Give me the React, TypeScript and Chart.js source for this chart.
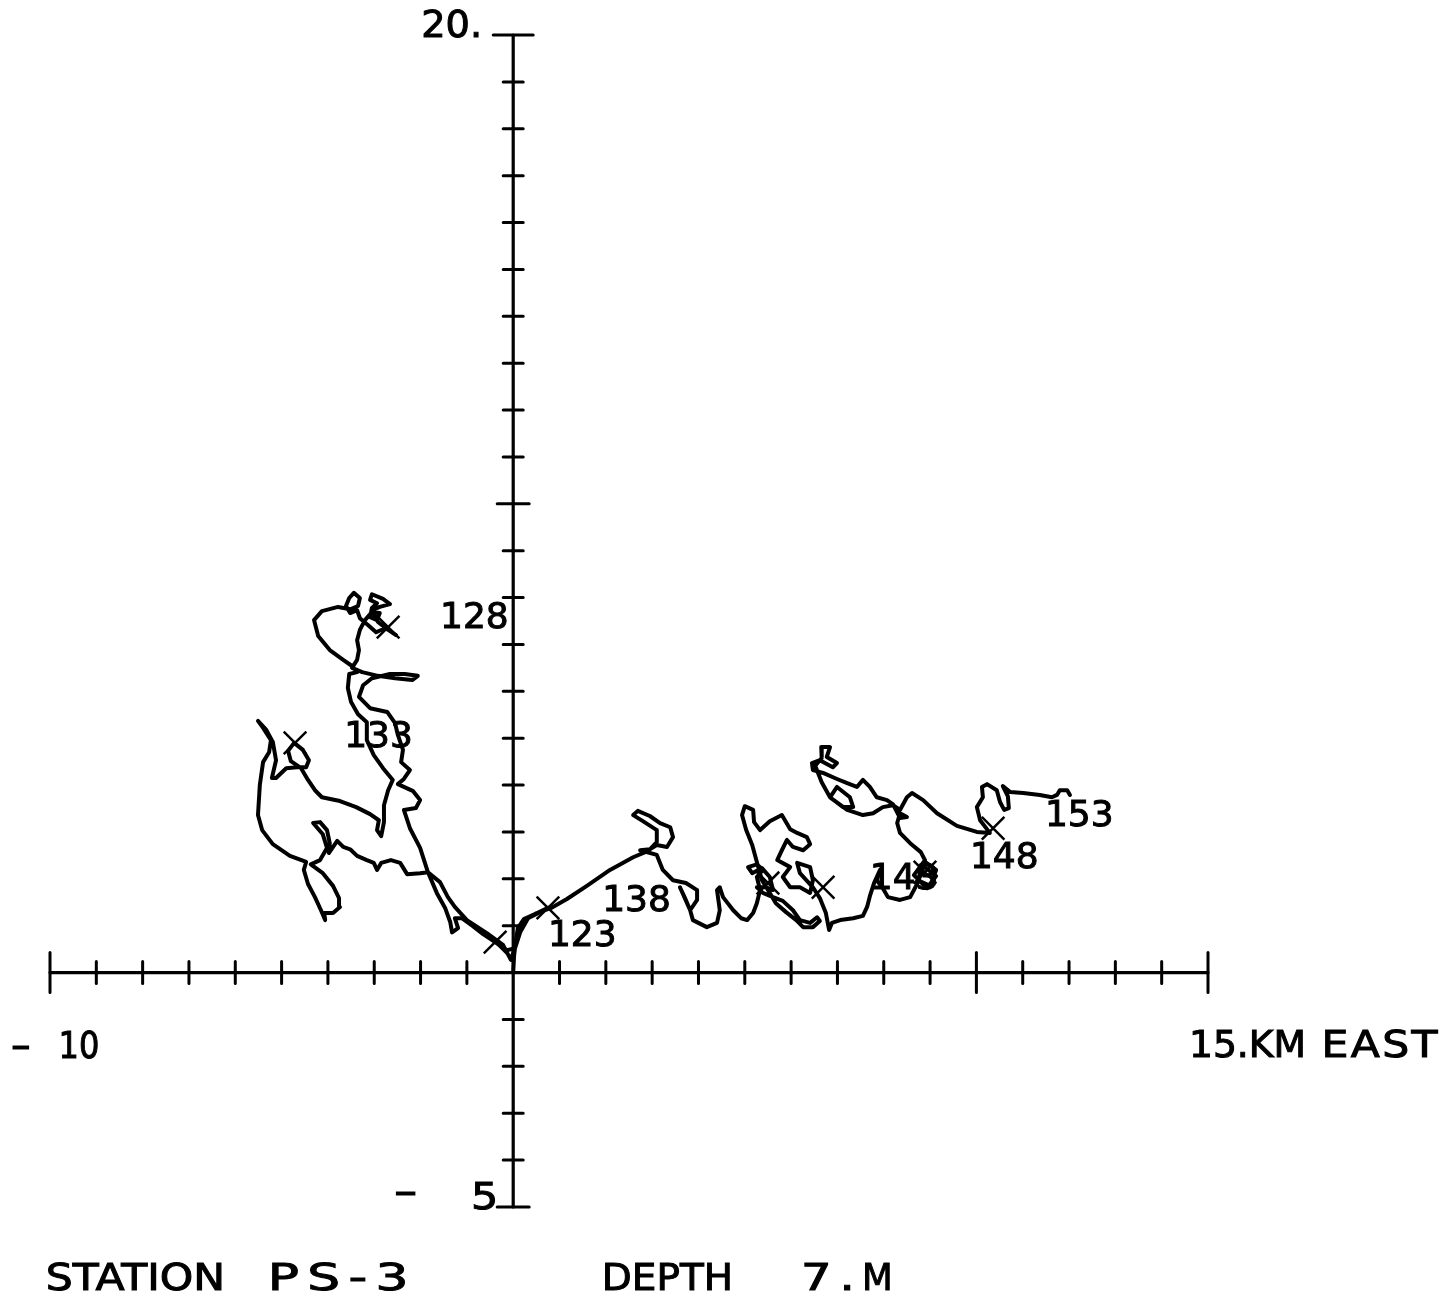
import React, { useEffect, useRef } from 'react';
import { Chart, registerables } from 'chart.js';

Chart.register(...registerables);

// Progressive vector track, km east / km north of the station
const trackEastKm = [
  0, 0.02, 0.06, 0.10, 0.23, 0.47, 0.75, 0.58, 0.32, 0.15,
  0.04, -0.13, -0.39, -0.65, -0.87, -1.11, -1.26, -1.19, -1.32, -1.36,
  -1.47, -1.65, -1.84, -2.01, -2.23, -2.36, -2.10, -2.01, -2.16, -2.49,
  -2.36, -2.23, -2.42, -2.38, -2.49, -2.55, -2.72, -3.09, -3.33, -3.24,
  -3.05, -2.66, -2.34, -2.06, -2.18, -2.55, -2.92, -3.26, -3.48, -3.37,
  -3.33, -3.37, -3.31, -3.20, -3.05, -2.88, -2.94, -3.09, -3.05, -2.94,
  -3.09, -3.05, -2.81, -2.66, -2.88, -3.05, -2.92, -2.70, -2.53, -2.75,
  -2.96, -3.13, -3.31, -3.37, -3.52, -3.61, -3.54, -3.44, -3.31, -3.35,
  -3.52, -3.78, -4.13, -4.30, -4.21, -3.96, -3.67, -3.48, -3.37, -3.54,
  -3.57, -3.50, -3.35, -3.16, -3.16, -3.01, -2.81, -2.60, -2.70, -2.79,
  -2.79, -2.85, -2.94, -2.90, -3.09, -3.39, -3.74, -4.13, -4.28, -4.43,
  -4.58, -4.80, -4.86, -4.73, -4.54, -4.41, -4.47, -4.67, -4.90, -5.12,
  -5.21, -5.12, -5.19, -5.34, -5.51, -5.40, -5.23, -5.27, -5.40, -5.47,
  -5.51, -5.42, -5.19, -4.82, -4.47, -4.52, -4.43, -4.28, -4.15, -4.06,
  -4.08, -3.89, -3.74, -3.76, -3.89, -4.11, -4.37, -4.17, -4.02, -4.11,
  -4.32, -4.17, -4.02, -3.96, -3.98, -3.80, -3.67, -3.52, -3.37, -3.16,
  -3.01, -2.94, -2.85, -2.64, -2.44, -2.29, -2.01, -1.84, -1.58, -1.41,
  -1.26, -1.00, -0.57, -0.22, -0.05, 0.02, 0.10, 0.23, 0.51, 0.82,
  1.16, 1.59, 2.09, 2.59, 2.85, 3.10, 3.32, 3.45, 3.39, 3.17,
  2.95, 2.69, 2.59, 2.80, 3.10, 3.10, 2.95, 2.74, 3.10, 3.23,
  3.45, 3.73, 3.97, 3.97, 3.82, 3.71, 3.60, 3.82, 3.88, 4.18,
  4.40, 4.46, 4.40, 4.46, 4.53, 4.75, 4.92, 5.05, 5.18, 5.26,
  5.33, 5.26, 5.39, 5.26, 5.07, 5.16, 5.37, 5.54, 5.61, 5.46,
  5.26, 5.39, 5.61, 5.82, 6.04, 6.19, 6.41, 6.56, 6.62, 6.47,
  6.26, 6.11, 5.89, 5.67, 5.54, 5.37, 5.26, 5.16, 5.03, 4.94,
  5.00, 5.18, 5.20, 5.33, 5.54, 5.80, 5.98, 6.13, 6.34, 6.41,
  6.26, 6.04, 5.91, 5.80, 5.70, 5.98, 5.82, 5.98, 6.19, 6.41,
  6.47, 6.41, 6.13, 6.19, 6.47, 6.62, 6.75, 6.82, 6.88, 7.06,
  7.34, 7.55, 7.64, 7.70, 7.79, 7.92, 7.85, 7.98, 8.09, 8.35,
  8.57, 8.72, 8.89, 9.13, 9.00, 8.74, 8.83, 9.13, 8.93, 8.65,
  8.89, 8.80, 8.57, 8.35, 8.29, 8.35, 8.50, 8.35, 8.20, 8.07,
  7.85, 7.70, 7.55, 7.42, 7.21, 6.99, 6.69, 6.47, 6.45, 6.62,
  6.90, 6.99, 6.77, 6.84, 6.65, 6.66, 6.52, 6.66, 6.84, 7.12,
  7.34, 7.27, 6.99, 6.84, 7.21, 7.55, 7.77, 7.98, 8.20, 8.35,
  8.50, 8.61, 8.85, 9.15, 9.58, 10.01, 10.29, 10.08, 10.01, 10.14,
  10.12, 10.23, 10.44, 10.51, 10.60, 10.70, 10.68, 10.57, 10.73, 11.01,
  11.37, 11.63, 11.74, 11.80, 11.96, 12.02,
];

const trackNorthKm = [
  0, 0.37, 0.69, 0.95, 1.14, 1.25, 1.38, 1.29, 1.16, 0.86,
  0.52, 0.48, 0.65, 0.82, 0.99, 1.16, 1.16, 0.95, 0.86, 1.08,
  1.38, 1.70, 2.14, 2.66, 3.08, 3.47, 3.51, 3.68, 3.87, 4.02,
  4.13, 4.32, 4.49, 4.75, 5.07, 5.32, 5.56, 5.64, 5.88, 6.13,
  6.28, 6.37, 6.37, 6.33, 6.24, 6.28, 6.33, 6.41, 6.50, 6.67,
  6.88, 7.09, 7.31, 7.52, 7.69, 7.67, 7.52, 7.58, 7.78, 7.88,
  7.95, 8.07, 7.97, 7.86, 7.80, 7.73, 7.48, 7.31, 7.20, 7.35,
  7.26, 7.41, 7.56, 7.73, 7.67, 7.82, 7.99, 8.10, 7.99, 7.82,
  7.75, 7.80, 7.71, 7.52, 7.18, 6.88, 6.67, 6.54, 6.41, 6.37,
  6.07, 5.77, 5.51, 5.34, 4.96, 4.64, 4.36, 4.11, 3.89, 3.57,
  3.21, 2.91, 3.04, 3.25, 3.38, 3.53, 3.66, 3.74, 3.89, 4.11,
  4.36, 4.51, 4.73, 4.90, 4.75, 4.53, 4.38, 4.38, 4.36, 4.15,
  4.15, 4.53, 4.92, 5.19, 5.37, 5.22, 4.96, 4.70, 4.49, 4.00,
  3.36, 3.04, 2.74, 2.49, 2.36, 2.19, 1.89, 1.61, 1.33, 1.12,
  1.27, 1.27, 1.40, 1.59, 1.85, 2.12, 2.31, 2.40, 2.66, 2.95,
  3.19, 3.21, 3.04, 2.76, 2.55, 2.81, 2.68, 2.63, 2.49, 2.40,
  2.34, 2.19, 2.34, 2.40, 2.34, 2.10, 2.12, 2.14, 1.93, 1.61,
  1.40, 1.12, 0.84, 0.59, 0.27, 0.48, 0.91, 1.12, 1.27, 1.38,
  1.57, 1.85, 2.19, 2.46, 2.57, 2.72, 2.68, 2.89, 3.10, 3.19,
  3.34, 3.45, 3.36, 3.23, 3.04, 2.78, 2.63, 2.61, 2.51, 2.19,
  1.97, 1.91, 1.76, 1.55, 1.33, 1.59, 1.82, 1.33, 1.12, 0.97,
  1.06, 1.33, 1.76, 1.82, 1.61, 1.33, 1.16, 1.12, 1.27, 1.48,
  1.76, 2.04, 2.19, 2.31, 2.25, 2.12, 2.23, 2.04, 1.76, 1.82,
  1.82, 1.70, 1.61, 1.53, 1.33, 1.12, 1.06, 1.18, 1.10, 0.97,
  0.97, 1.12, 1.29, 1.48, 1.70, 1.97, 2.36, 2.72, 3.04, 3.36,
  3.55, 3.47, 3.21, 3.04, 3.23, 3.36, 3.06, 2.98, 2.89, 2.74,
  2.61, 2.68, 2.83, 2.61, 2.40, 2.25, 2.04, 1.82, 1.82, 1.70,
  1.97, 2.25, 2.34, 2.12, 1.82, 1.59, 1.27, 0.91, 1.06, 1.12,
  1.16, 1.21, 1.40, 1.63, 1.91, 2.19, 1.97, 1.80, 1.61, 1.55,
  1.61, 1.89, 2.36, 2.19, 1.85, 1.97, 2.29, 2.06, 1.80, 2.08,
  2.40, 2.57, 2.76, 2.98, 3.19, 3.40, 3.32, 3.30, 3.59, 3.68,
  3.74, 3.96, 4.11, 3.96, 4.04, 4.13, 4.26, 4.32, 4.47, 4.53,
  4.38, 4.47, 4.60, 4.81, 4.81, 4.58, 4.41, 4.06, 3.74, 3.53,
  3.53, 3.74, 3.96, 3.74, 3.47, 3.36, 3.40, 3.53, 3.57, 3.47,
  3.74, 3.83, 3.68, 3.40, 3.13, 3.00, 2.98, 3.25, 3.53, 3.74,
  3.96, 4.02, 3.89, 3.64, 3.47, 3.51, 3.76, 3.98, 3.85, 3.83,
  3.79, 3.74, 3.79, 3.89, 3.89, 3.79,
];

// Day markers (X) along the track
const markEastKm = [-0.39, 0.75, -2.70, -4.71, 5.50, 6.69, 8.89, 10.36];
const markNorthKm = [0.65, 1.38, 7.37, 4.90, 1.91, 1.82, 2.14, 3.08];

// Day labels (text left edge / vertical centre, km)
const dayLabels = ['123', '128', '133', '138', '143', '148', '153'];
const dayLabelEastKm = [0.75, -1.58, -3.65, 1.92, 7.70, 9.86, 11.48];
const dayLabelNorthKm = [0.85, 7.63, 5.10, 1.60, 2.06, 2.51, 3.40];

// Axes
const xRangeKm = [-10, 15];
const yRangeKm = [-5, 20];
const xTickValues = [-10, -9, -8, -7, -6, -5, -4, -3, -2, -1, 0, 1, 2, 3, 4, 5, 6, 7, 8, 9, 10, 11, 12, 13, 14, 15];
const yTickValues = [-5, -4, -3, -2, -1, 0, 1, 2, 3, 4, 5, 6, 7, 8, 9, 10, 11, 12, 13, 14, 15, 16, 17, 18, 19, 20];
const xMajorTicks = [-10, 10, 15];
const yMajorTicks = [-5, 10, 20];

const FONT = '"DejaVu Sans", "Liberation Sans", sans-serif';

function inkBox(ctx: CanvasRenderingContext2D, text: string) {
  const m = ctx.measureText(text);
  return { w: m.actualBoundingBoxLeft + m.actualBoundingBoxRight, left: m.actualBoundingBoxLeft };
}

// Draw text so that its ink spans [left, right]: glyphs are widened a little
// (plotter lettering) and any remaining room goes into letter spacing.
function drawFit(ctx: CanvasRenderingContext2D, text: string, left: number, right: number, baseline: number, widen = 1.15, size = 37) {
  ctx.save();
  ctx.font = `${size}px ${FONT}`;
  ctx.textAlign = 'left';
  ctx.textBaseline = 'alphabetic';
  const anyCtx = ctx as any;
  const target = right - left;
  let m = inkBox(ctx, text);
  let sx = widen;
  if (text.length === 1) {
    sx = m.w > 0 ? target / m.w : 1;
  } else if (m.w * widen >= target || !('letterSpacing' in anyCtx)) {
    sx = m.w > 0 ? target / m.w : 1;
  } else {
    const extra = (target / widen - m.w) / (text.length - 1);
    anyCtx.letterSpacing = `${extra.toFixed(2)}px`;
    m = inkBox(ctx, text);
    sx = m.w > 0 ? target / m.w : widen;
  }
  ctx.translate(left, baseline);
  ctx.scale(sx, 1);
  ctx.lineWidth = 1;
  ctx.strokeStyle = '#000';
  ctx.fillText(text, m.left, 0);
  ctx.strokeText(text, m.left, 0);
  ctx.restore();
}

const pvdPlugin = {
  id: 'pvdAxes',
  beforeDraw(chart: any) {
    const ctx = chart.ctx;
    ctx.save();
    ctx.fillStyle = '#ffffff';
    ctx.fillRect(0, 0, chart.width, chart.height);
    ctx.restore();
  },
  beforeDatasetsDraw(chart: any) {
    const ctx: CanvasRenderingContext2D = chart.ctx;
    const xs = chart.scales.x;
    const ys = chart.scales.y;
    const x0 = xs.getPixelForValue(0);
    const y0 = ys.getPixelForValue(0);
    ctx.save();
    ctx.strokeStyle = '#000';
    ctx.lineWidth = 3.2;
    ctx.lineCap = 'round';
    ctx.beginPath();
    ctx.moveTo(xs.getPixelForValue(xRangeKm[0]), y0);
    ctx.lineTo(xs.getPixelForValue(xRangeKm[1]), y0);
    ctx.moveTo(x0, ys.getPixelForValue(yRangeKm[0]));
    ctx.lineTo(x0, ys.getPixelForValue(yRangeKm[1]));
    ctx.stroke();
    ctx.lineWidth = 3;
    ctx.beginPath();
    xTickValues.forEach((v) => {
      if (v === 0) return;
      const px = xs.getPixelForValue(v);
      const h = xMajorTicks.includes(v) ? 20 : 11;
      ctx.moveTo(px, y0 - h);
      ctx.lineTo(px, y0 + h);
    });
    yTickValues.forEach((v) => {
      if (v === 0) return;
      const py = ys.getPixelForValue(v);
      const h = v === yRangeKm[1] ? 20 : yMajorTicks.includes(v) ? 16 : 10;
      ctx.moveTo(x0 - h, py);
      ctx.lineTo(x0 + h, py);
    });
    ctx.stroke();
    ctx.restore();
  },
  afterDatasetsDraw(chart: any) {
    const ctx: CanvasRenderingContext2D = chart.ctx;
    const xs = chart.scales.x;
    const ys = chart.scales.y;
    ctx.save();
    ctx.fillStyle = '#000';
    ctx.strokeStyle = '#000';
    // day labels
    ctx.font = `36px ${FONT}`;
    ctx.textAlign = 'left';
    ctx.textBaseline = 'alphabetic';
    ctx.lineWidth = 1;
    dayLabels.forEach((t, i) => {
      const px = xs.getPixelForValue(dayLabelEastKm[i]);
      const py = ys.getPixelForValue(dayLabelNorthKm[i]);
      ctx.fillText(t, px, py + 13);
      ctx.strokeText(t, px, py + 13);
    });
    // axis annotations
    const x0 = xs.getPixelForValue(0);
    const yTop = ys.getPixelForValue(yRangeKm[1]);
    const yBot = ys.getPixelForValue(yRangeKm[0]);
    const xL = xs.getPixelForValue(xRangeKm[0]);
    const xR = xs.getPixelForValue(xRangeKm[1]);
    drawFit(ctx, '20.', x0 - 90, x0 - 35, yTop + 2);
    drawFit(ctx, '-', x0 - 118, x0 - 98, yBot - 3);
    drawFit(ctx, '5', x0 - 40, x0 - 18, yBot + 2);
    drawFit(ctx, '-', xL - 38, xL - 21, 1058);
    drawFit(ctx, '10', xL + 12, xL + 48, 1058);
    drawFit(ctx, '15.KM', xR - 15, xR + 95, 1057);
    drawFit(ctx, 'EAST', xR + 117, xR + 230, 1057);
    // station footer
    drawFit(ctx, 'STATION', 48, 222, 1290);
    drawFit(ctx, 'PS-3', 272, 405, 1290, 1.4);
    drawFit(ctx, 'DEPTH', 605, 730, 1290);
    drawFit(ctx, '7.', 805, 850, 1290, 1.3);
    drawFit(ctx, 'M', 865, 890, 1290);
    ctx.restore();
  },
};

export default function App() {
  const canvasRef = useRef<HTMLCanvasElement | null>(null);

  useEffect(() => {
    const canvas = canvasRef.current;
    if (!canvas) return;
    const chart = new Chart(canvas, {
      type: 'scatter',
      data: {
        datasets: [
          {
            label: 'Track',
            data: trackEastKm.map((x, i) => ({ x, y: trackNorthKm[i] })),
            showLine: true,
            borderColor: '#000',
            backgroundColor: '#000',
            borderWidth: 4,
            pointRadius: 0,
            pointHoverRadius: 0,
            tension: 0,
            borderJoinStyle: 'round',
            borderCapStyle: 'round',
          } as any,
          {
            label: 'Day marks',
            data: markEastKm.map((x, i) => ({ x, y: markNorthKm[i] })),
            showLine: false,
            pointStyle: 'crossRot',
            pointRadius: 16,
            borderColor: '#000',
            backgroundColor: '#000',
            pointBorderWidth: 2.5,
            borderWidth: 2.5,
          } as any,
        ],
      },
      options: {
        animation: false,
        responsive: false,
        devicePixelRatio: 1,
        events: [],
        layout: { padding: { left: 50, right: 234, top: 35, bottom: 90 } },
        scales: {
          x: { type: 'linear', min: xRangeKm[0], max: xRangeKm[1], display: false },
          y: { type: 'linear', min: yRangeKm[0], max: yRangeKm[1], display: false },
        },
        plugins: { legend: { display: false }, tooltip: { enabled: false } },
      },
      plugins: [pvdPlugin],
    });
    return () => chart.destroy();
  }, []);

  return (
    <canvas
      ref={canvasRef}
      width={1442}
      height={1297}
      style={{ position: 'absolute', left: 0, top: 0, width: 1442, height: 1297, display: 'block' }}
    />
  );
}
